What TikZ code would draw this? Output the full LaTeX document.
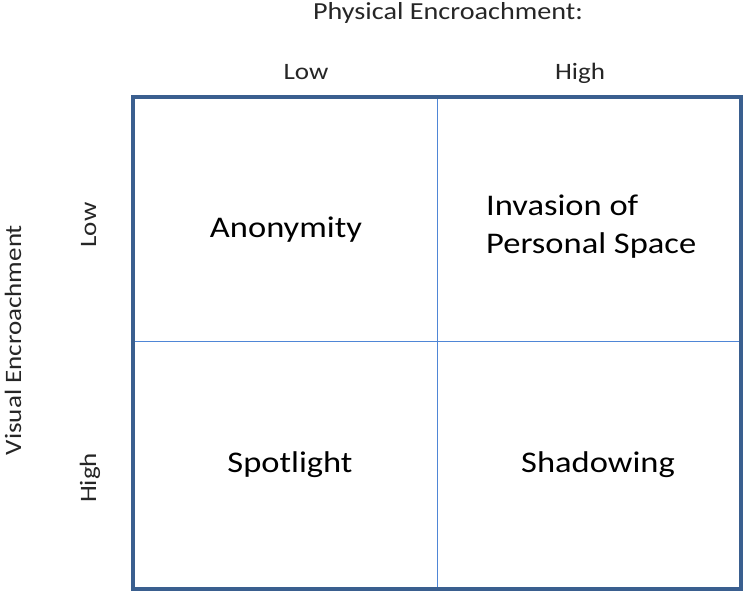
\documentclass[tikz,border=0pt]{standalone}
\usepackage{fontspec}
\setmainfont{Carlito}[FakeStretch=1.15]
\definecolor{frameblue}{HTML}{3A5F8F}
\definecolor{gridblue}{HTML}{4F86D6}
\definecolor{labelgray}{HTML}{262626}
\begin{document}
\begin{tikzpicture}[x=1pt,y=-1pt,
  axislabel/.style={font=\fontsize{23.5}{28}\selectfont, text=labelgray, inner sep=0pt},
  cellname/.style={font=\fontsize{30}{38}\selectfont, text=black, inner sep=0pt}]
\useasboundingbox (0,0) rectangle (743,592);
% quadrant grid
\coordinate (tl) at (133,97);
\coordinate (br) at (741,589);
\coordinate (midtop) at (437.5,97);
\coordinate (midbot) at (437.5,589);
\coordinate (midleft) at (133,341.5);
\coordinate (midright) at (741,341.5);
\draw[gridblue, line width=1.6pt] (midtop) -- (midbot);
\draw[gridblue, line width=1.6pt] (midleft) -- (midright);
\draw[frameblue, line width=4pt] (tl) rectangle (br);
% axis headings
\node[axislabel, anchor=base, font=\fontsize{24.5}{28}\selectfont] (phys) at (448,19) {Physical Encroachment:};
\node[axislabel, anchor=base] (plow) at (306,79) {Low};
\node[axislabel, anchor=base] (phigh) at (580,79) {High};
\node[axislabel, rotate=90, anchor=base] (vis) at (21,340) {Visual Encroachment};
\node[axislabel, rotate=90, anchor=base] (vlow) at (96,225) {Low};
\node[axislabel, rotate=90, anchor=base] (vhigh) at (96,478) {High};
% quadrant names
\node[cellname, anchor=base] (anon) at (286,237) {Anonymity};
\node[cellname, anchor=base west, align=left] (invasion) at (486,253) {Invasion of\\Personal Space};
\node[cellname, anchor=base] (spot) at (290,472) {Spotlight};
\node[cellname, anchor=base] (shadow) at (598,472) {Shadowing};
\end{tikzpicture}
\end{document}
